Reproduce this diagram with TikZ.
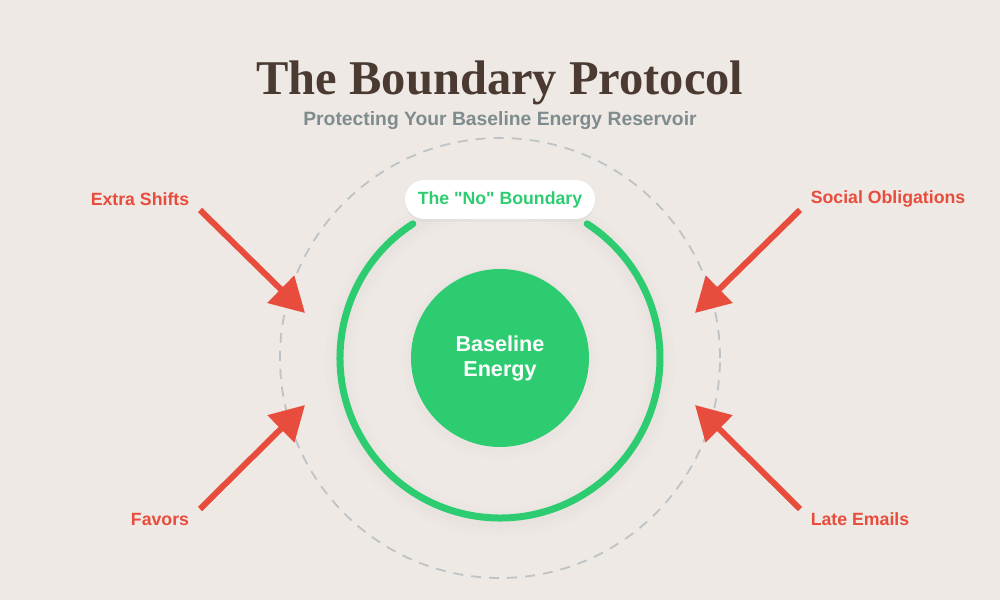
\documentclass[tikz,border=0pt]{standalone}
\usepackage{fontspec}
\setmainfont{Liberation Sans}
\newfontfamily\titlefont{Liberation Serif}
\font\pillfont="Liberation Sans/B" at 17.7pt
\usepackage{tikz}
\usetikzlibrary{arrows.meta,positioning,calc,shadows}
\definecolor{bgcol}{HTML}{EEE9E4}
\definecolor{titlecol}{HTML}{4A3A32}
\definecolor{subcol}{HTML}{7F8C8D}
\definecolor{okgreen}{HTML}{2ECC71}
\definecolor{hitred}{HTML}{E74C3C}
\definecolor{dashgray}{HTML}{BDC3C7}

\begin{document}
\begin{tikzpicture}[
  x=1pt, y=1pt,
  every node/.style={font=\bfseries},
  lbl/.style={text=hitred, font=\fontsize{17.7}{20}\selectfont\bfseries},
  push/.style={-{Triangle[length=34pt,width=37pt]}, line width=6pt, draw=hitred},
  ring/.style={draw=okgreen, line width=7pt, line cap=round},
  pill/.style={fill=white, rounded corners=19.5pt, minimum width=190pt,
               minimum height=39pt, text=okgreen, font=\pillfont,
               drop shadow={opacity=0.05, shadow xshift=0pt, shadow yshift=-3pt}}
]
\useasboundingbox[fill=bgcol] (0,0) rectangle (1000,600);

% titles
\node[anchor=base, text=titlecol, font=\titlefont\fontsize{48.5}{52}\selectfont\bfseries]
  (title) at (500,505) {The Boundary Protocol};
\node[anchor=base, text=subcol, font=\fontsize{19.3}{22}\selectfont\bfseries]
  (sub) at (500,474) {Protecting Your Baseline Energy Reservoir};

\coordinate (c) at (500,242);

% outer limit
\draw[dashgray, line width=1.8pt, dash pattern=on 10pt off 8pt] (c) circle (220);

% soft halo behind the ring
\foreach \w in {30,20,12}
  \draw[black, opacity=0.008, line width=\w pt] ($(c)+(0,-4)$) circle (160);
\draw[ring] ($(c)+(123:160)$) arc (123:417:160);

% core
\foreach \r in {98,94}
  \fill[black, opacity=0.008] ($(c)+(0,-3)$) circle (\r);
\node[circle, fill=okgreen, minimum size=178pt, inner sep=0pt, align=center,
      text=white, font=\fontsize{21.6}{25}\selectfont\bfseries]
  (core) at (c) {Baseline\\Energy};

\node[pill] (nob) at (500,400.5) {The "No" Boundary};

% pressures
\node[lbl] (xs) at (140,401) {Extra Shifts};
\node[lbl] (so) at (888,401) {Social Obligations};
\node[lbl] (fv) at (160,81) {Favors};
\node[lbl] (le) at (860,81) {Late Emails};

\coordinate (xs0) at (200,390);  \coordinate (xs1) at (305,287);
\coordinate (so0) at (800,390);  \coordinate (so1) at (695,287);
\coordinate (fv0) at (200,91);   \coordinate (fv1) at (305,195);
\coordinate (le0) at (800,91);   \coordinate (le1) at (695,195);

\draw[push] (xs0) -- (xs1);
\draw[push] (so0) -- (so1);
\draw[push] (fv0) -- (fv1);
\draw[push] (le0) -- (le1);

\end{tikzpicture}
\end{document}
